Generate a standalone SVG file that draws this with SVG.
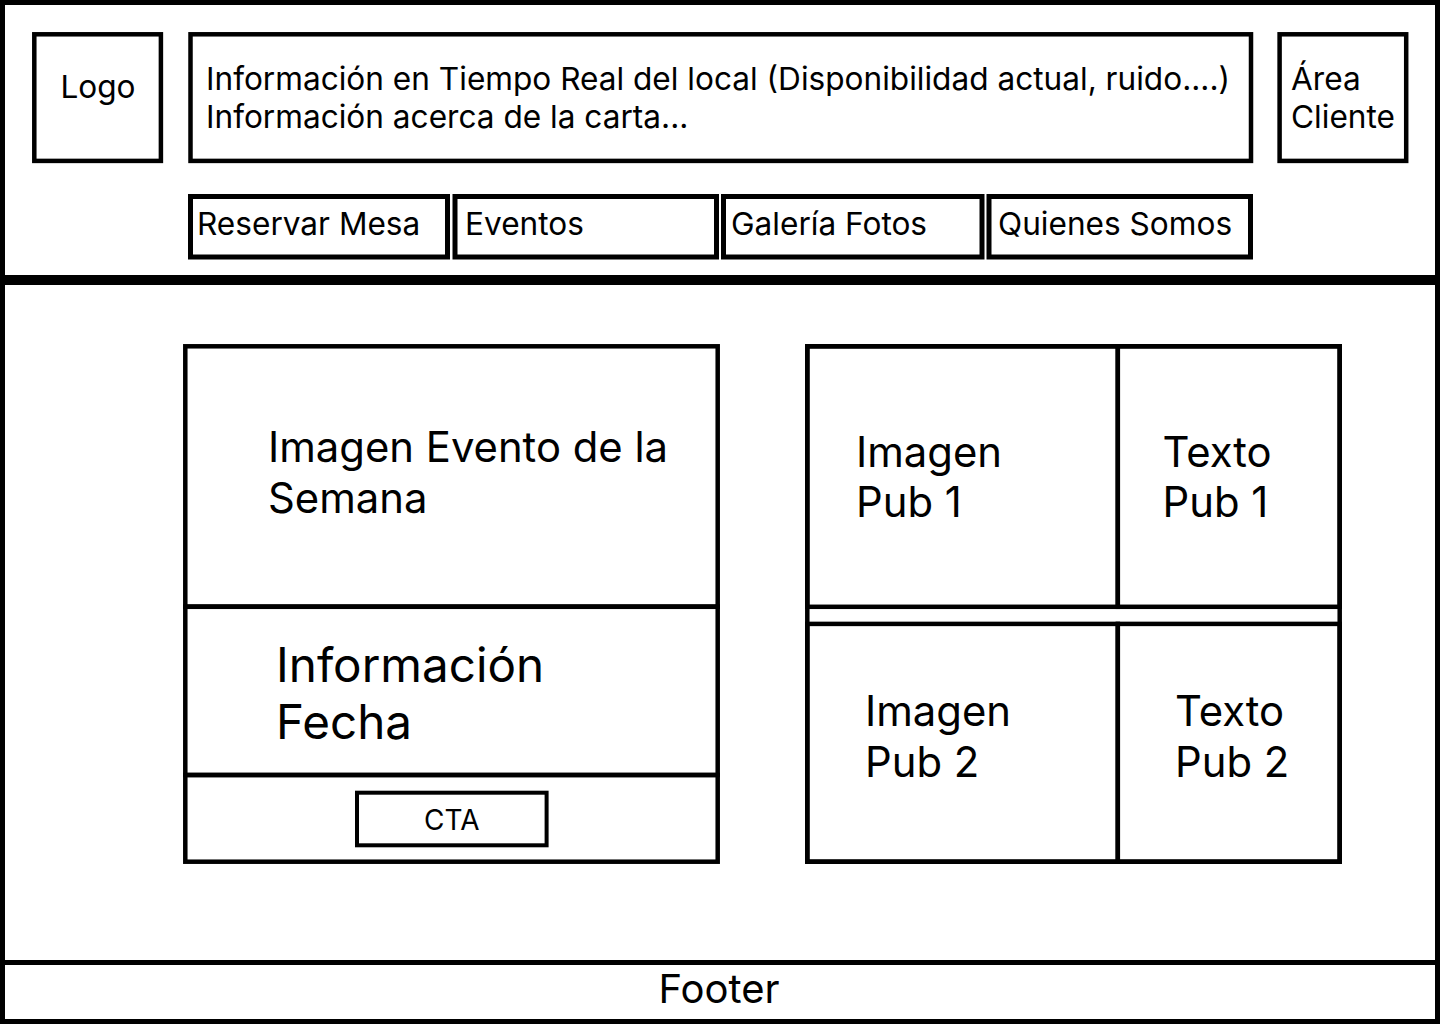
<svg xmlns="http://www.w3.org/2000/svg" width="1440" height="1024" viewBox="0 0 1440 1024">
<style>
.frame{fill:none;stroke:#000;stroke-width:5}
.box{fill:none;stroke:#000;stroke-width:4.5}
.nav{fill:none;stroke:#000;stroke-width:5}
.cta{fill:none;stroke:#000;stroke-width:4}
text{font-family:Inter,"Liberation Sans",sans-serif;fill:#000}
.t32{font-size:31.6px}
.t42{font-size:41.8px}
.t48{font-size:47.6px}
</style>
<rect x="0" y="0" width="1440" height="1024" fill="#fff"/>
<g id="header">
<rect class="frame" x="2.5" y="2.5" width="1435" height="275"/>
</g>
<g id="body">
<rect class="frame" x="2.5" y="282.5" width="1435" height="680"/>
</g>
<g id="footer">
<rect class="frame" x="2.5" y="962.5" width="1435" height="59"/>
<text x="719" y="1003" font-size="40" text-anchor="middle">Footer</text>
</g>
<g id="logo">
<rect class="box" x="34.3" y="34.3" width="126.6" height="126.6"/>
<text class="t32" x="98" y="98" text-anchor="middle">Logo</text>
</g>
<g id="info">
<rect class="box" x="190.5" y="34.3" width="1060.5" height="126.6"/>
<text class="t32" x="206" y="90">Información en Tiempo Real del local (Disponibilidad actual, ruido....)</text>
<text class="t32" x="206" y="128.3">Información acerca de la carta...</text>
</g>
<g id="area-cliente">
<rect class="box" x="1279.6" y="34.3" width="126.6" height="126.6"/>
<text class="t32" x="1291" y="90">Área</text>
<text class="t32" x="1291" y="128.3">Cliente</text>
</g>
<g id="nav-reservar">
<rect class="nav" x="190.5" y="196.5" width="257" height="60.5"/>
<text class="t32" x="197" y="235">Reservar Mesa</text>
</g>
<g id="nav-eventos">
<rect class="nav" x="455" y="196.5" width="261.5" height="60.5"/>
<text class="t32" x="465" y="235">Eventos</text>
</g>
<g id="nav-galeria">
<rect class="nav" x="723.5" y="196.5" width="258.5" height="60.5"/>
<text class="t32" x="731" y="235">Galería Fotos</text>
</g>
<g id="nav-quienes">
<rect class="nav" x="989" y="196.5" width="261.5" height="60.5"/>
<text class="t32" x="998" y="235">Quienes Somos</text>
</g>
<g id="evento-imagen">
<rect class="box" x="185.3" y="346.3" width="532.4" height="260.5"/>
<text class="t42" x="268" y="461.7">Imagen Evento de la</text>
<text class="t42" x="268" y="513.3">Semana</text>
</g>
<g id="evento-info">
<rect class="box" x="185.3" y="606.5" width="532.4" height="168.5"/>
<text class="t48" x="276" y="681.7">Información</text>
<text class="t48" x="276" y="739.3">Fecha</text>
</g>
<g id="evento-cta">
<rect class="box" x="185.3" y="775" width="532.4" height="86.7"/>
<rect class="cta" x="357" y="792.7" width="189.6" height="52.6"/>
<text x="451.8" y="830" font-size="28" text-anchor="middle">CTA</text>
</g>
<g id="pub-panel">
<rect class="box" x="807.3" y="346.3" width="532.4" height="515.4"/>
</g>
<g id="imagen-pub1">
<rect class="box" x="807.3" y="346.3" width="310.5" height="260.5"/>
<text class="t42" x="856" y="466.7">Imagen</text>
<text class="t42" x="856" y="517.3">Pub 1</text>
</g>
<g id="texto-pub1">
<rect class="box" x="1117.8" y="346.3" width="221.9" height="260.5"/>
<text class="t42" x="1162.5" y="466.7">Texto</text>
<text class="t42" x="1162.5" y="517.3">Pub 1</text>
</g>
<g id="imagen-pub2">
<rect class="box" x="807.3" y="623.9" width="310.5" height="237.8"/>
<text class="t42" x="865" y="725.7">Imagen</text>
<text class="t42" x="865" y="776.7">Pub 2</text>
</g>
<g id="texto-pub2">
<rect class="box" x="1117.8" y="623.9" width="221.9" height="237.8"/>
<text class="t42" x="1175" y="725.7">Texto</text>
<text class="t42" x="1175" y="776.7">Pub 2</text>
</g>
<g id="connectors"/>
</svg>
